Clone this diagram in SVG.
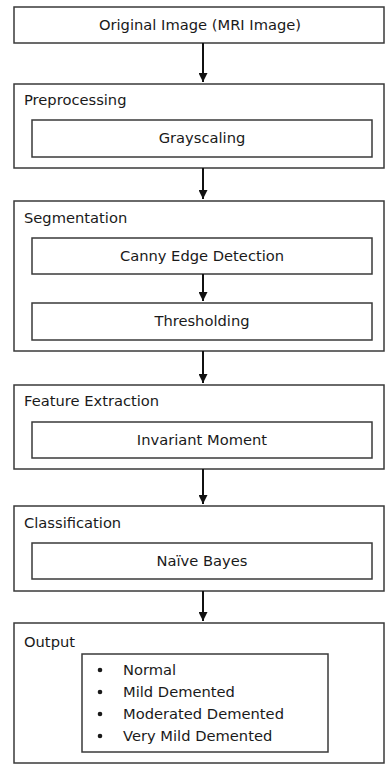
<svg xmlns="http://www.w3.org/2000/svg" width="387" height="765" viewBox="0 0 387 765">
  <style>
    .box { fill: #ffffff; stroke: #3a3a3a; stroke-width: 1.5; }
    .t { font-family: "DejaVu Sans", Verdana, sans-serif; font-size: 14.7px; fill: #1a1a1a; }
    .c { text-anchor: middle; }
    .wire { stroke: #111111; stroke-width: 2; fill: none; marker-end: url(#tip); }
  </style>
  <defs>
    <marker id="tip" viewBox="0 0 10 10" refX="10" refY="5" markerWidth="4.5" markerHeight="4.5" orient="auto" markerUnits="strokeWidth">
      <path d="M0,0 L10,5 L0,10 z" fill="#111111"/>
    </marker>
  </defs>
  <rect width="387" height="765" fill="#ffffff"/>

  <g id="original">
    <rect class="box" x="14" y="7" width="370" height="36"/>
    <text class="t c" x="200" y="30">Original Image (MRI Image)</text>
  </g>

  <g id="preprocessing">
    <rect class="box" x="14" y="84" width="370" height="84"/>
    <text class="t" x="24" y="105">Preprocessing</text>
    <rect class="box" x="32" y="120" width="340" height="37"/>
    <text class="t c" x="202" y="143">Grayscaling</text>
  </g>

  <g id="segmentation">
    <rect class="box" x="14" y="201" width="370" height="150"/>
    <text class="t" x="24" y="223">Segmentation</text>
    <rect class="box" x="32" y="238" width="340" height="36"/>
    <text class="t c" x="202" y="261">Canny Edge Detection</text>
    <rect class="box" x="32" y="303" width="340" height="37"/>
    <text class="t c" x="202" y="326">Thresholding</text>
  </g>

  <g id="feature-extraction">
    <rect class="box" x="14" y="385" width="370" height="84"/>
    <text class="t" x="24" y="406">Feature Extraction</text>
    <rect class="box" x="32" y="422" width="340" height="36"/>
    <text class="t c" x="202" y="445">Invariant Moment</text>
  </g>

  <g id="classification">
    <rect class="box" x="14" y="506" width="370" height="85"/>
    <text class="t" x="24" y="528">Classification</text>
    <rect class="box" x="32" y="543" width="340" height="36"/>
    <text class="t c" x="202" y="566">Naïve Bayes</text>
  </g>

  <g id="output">
    <rect class="box" x="14" y="623" width="370" height="140"/>
    <text class="t" x="24" y="647">Output</text>
    <rect class="box" x="82" y="654" width="246" height="98"/>
    <g fill="#1a1a1a">
      <circle cx="100" cy="670" r="2.3"/>
      <circle cx="100" cy="692" r="2.3"/>
      <circle cx="100" cy="714" r="2.3"/>
      <circle cx="100" cy="736" r="2.3"/>
    </g>
    <text class="t" x="123" y="675">Normal</text>
    <text class="t" x="123" y="697">Mild Demented</text>
    <text class="t" x="123" y="719">Moderated Demented</text>
    <text class="t" x="123" y="741">Very Mild Demented</text>
  </g>

  <g id="connectors">
    <line class="wire" x1="203" y1="43" x2="203" y2="82"/>
    <line class="wire" x1="203" y1="168" x2="203" y2="199"/>
    <line class="wire" x1="203" y1="274" x2="203" y2="301"/>
    <line class="wire" x1="203" y1="351" x2="203" y2="383"/>
    <line class="wire" x1="203" y1="469" x2="203" y2="504"/>
    <line class="wire" x1="203" y1="591" x2="203" y2="621"/>
  </g>
</svg>
